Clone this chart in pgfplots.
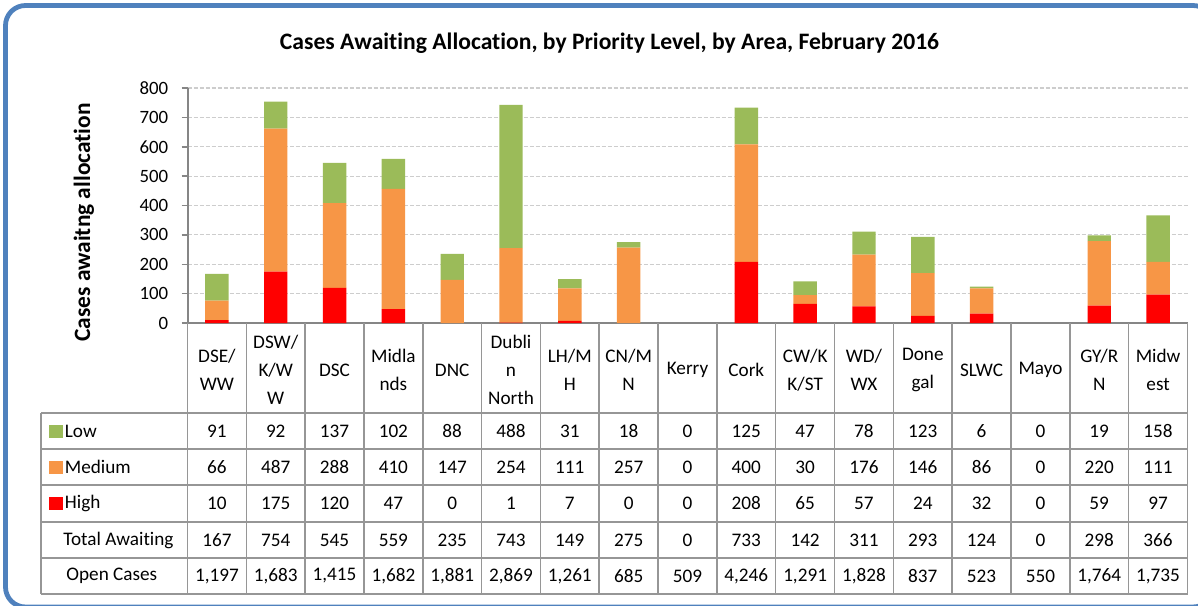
\documentclass[border=0pt]{standalone}
\usepackage{pgfplots}
\pgfplotsset{compat=1.18}
\usepackage{pgfplotstable}
\usepackage{fontspec}
\setmainfont[Ligatures=NoCommon]{Carlito}
\definecolor{cLow}{RGB}{155,187,89}
\definecolor{cMed}{RGB}{247,150,70}
\definecolor{cHigh}{RGB}{255,0,0}
\definecolor{frameblue}{RGB}{79,129,189}
\definecolor{tline}{RGB}{150,150,150}
\definecolor{axline}{RGB}{134,134,134}
\definecolor{gridc}{RGB}{205,205,205}

\pgfplotstableread{
idx low med high total open
0 91 66 10 167 1197
1 92 487 175 754 1683
2 137 288 120 545 1415
3 102 410 47 559 1682
4 88 147 0 235 1881
5 488 254 1 743 2869
6 31 111 7 149 1261
7 18 257 0 275 685
8 0 0 0 0 509
9 125 400 208 733 4246
10 47 30 65 142 1291
11 78 176 57 311 1828
12 123 146 24 293 837
13 6 86 32 124 523
14 0 0 0 0 550
15 19 220 59 298 1764
16 158 111 97 366 1735
}\data

\begin{document}
\begin{tikzpicture}
\begin{scope}[x=0.5pt,y=-0.5pt]
\path[use as bounding box] (0,0) rectangle (1198,605);
\clip (0,0) rectangle (1198,605);
\draw[frameblue, line width=2.4pt, rounded corners=10pt] (5.5,5.5) rectangle (1213,607);
\node[font=\fontsize{11.8}{14}\selectfont\bfseries, anchor=base, inner sep=0pt] at (609.5,49) {Cases Awaiting Allocation, by Priority Level, by Area, February 2016};
\node[font=\fontsize{11.7}{14}\selectfont\bfseries, rotate=90, inner sep=0pt] at (84,222.5) {Cases awaitng allocation};
\end{scope}

\begin{axis}[at={(93.75pt,-161.5pt)}, anchor=south west, scale only axis,
  width=500pt, height=117.5pt,
  xmin=-0.5, xmax=16.5, ymin=0, ymax=800,
  axis x line*=bottom, axis y line*=left,
  axis line style={axline, line width=1pt},
  ytick={0,100,...,800},
  ymajorgrids, grid style={gridc, dash pattern=on 2pt off 1pt, line width=0.6pt},
  tick align=outside, major tick length=3pt,
  ytick style={axline, line width=0.75pt},
  xtick={0,...,16}, xtick style={draw=none},
  xticklabels={{DSE/\\WW},{DSW/\\K/W\\W},DSC,{Midla\\nds},DNC,{Dubli\\n\\North},{LH/M\\H},{CN/M\\N},Kerry,Cork,{CW/K\\K/ST},{WD/\\WX},{Done\\gal},SLWC,Mayo,{GY/R\\N},{Midw\\est}},
  xticklabel style={anchor=center, yshift=-20.5pt, align=center, font=\fontsize{9.6}{14}\selectfont},
  yticklabel style={font=\fontsize{9.4}{11}\selectfont, anchor=east, inner sep=0pt, xshift=-6.5pt},
  /pgf/number format/assume math mode=true,
  ybar stacked, bar width=11.7pt,
]
\addplot[fill=cHigh, draw=none] table[x=idx, y=high]{\data};
\addplot[fill=cMed, draw=none] table[x=idx, y=med]{\data};
\addplot[fill=cLow, draw=none] table[x=idx, y=low]{\data};
\end{axis}

\begin{scope}[x=0.5pt,y=-0.5pt]
\foreach \k in {0,...,17} \draw[tline, line width=0.75pt] ({187.5+58.82*\k},323) -- ({187.5+58.82*\k},594);
\foreach \yy in {413,449,485,522,558,594} \draw[tline, line width=0.75pt] (41,\yy) -- (1187.5,\yy);
\draw[tline, line width=0.75pt] (41,413) -- (41,594);
\fill[cLow] (49,424.5) rectangle (63,437.5);
\fill[cMed] (49,460.5) rectangle (63,473.5);
\fill[cHigh] (49,497) rectangle (63,510);
\begin{scope}[every node/.style={font=\fontsize{9.6}{11}\selectfont, inner sep=0pt}]
\node[anchor=west] at (64.5,431) {Low};
\node[anchor=west] at (64.5,467) {Medium};
\node[anchor=west] at (64.5,503.5) {High};
\node[anchor=west] at (63,540) {Total Awaiting};
\node[anchor=west] at (66,576) {Open Cases};
\foreach \i in {0,...,16} {
  \pgfplotstablegetelem{\i}{low}\of\data
  \node at ({187.5+58.82*(\i+0.5)},431) {\pgfplotsretval};
  \pgfplotstablegetelem{\i}{med}\of\data
  \node at ({187.5+58.82*(\i+0.5)},467) {\pgfplotsretval};
  \pgfplotstablegetelem{\i}{high}\of\data
  \node at ({187.5+58.82*(\i+0.5)},503.5) {\pgfplotsretval};
  \pgfplotstablegetelem{\i}{total}\of\data
  \node at ({187.5+58.82*(\i+0.5)},540) {\pgfplotsretval};
  \pgfplotstablegetelem{\i}{open}\of\data
  \node at ({187.5+58.82*(\i+0.5)},576) {\pgfmathprintnumber[assume math mode=true, 1000 sep={,}]{\pgfplotsretval}};
}
\end{scope}
\end{scope}
\end{tikzpicture}
\end{document}
